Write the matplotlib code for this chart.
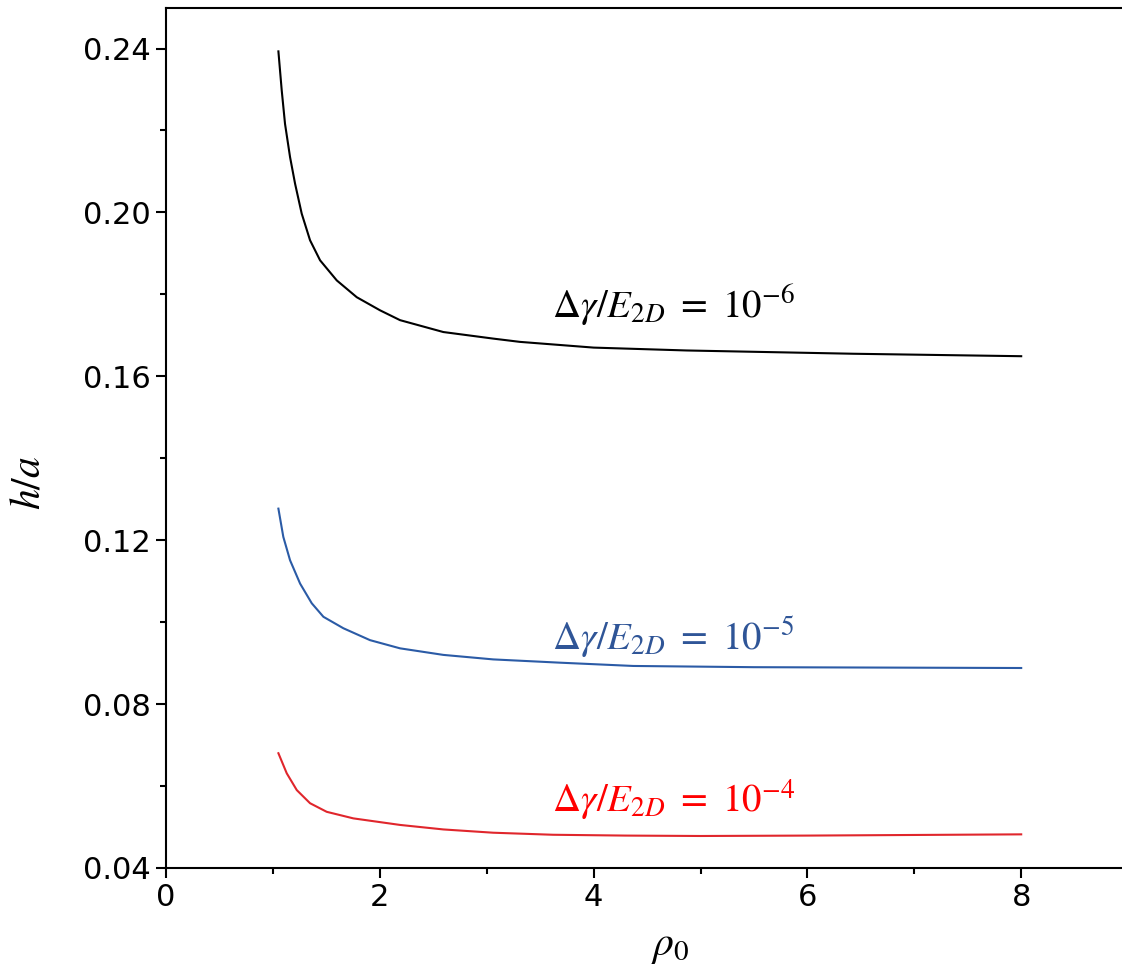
import numpy as np
import matplotlib.pyplot as plt
from matplotlib.ticker import MultipleLocator

plt.rcParams['mathtext.fontset'] = 'stix'
plt.rcParams['font.family'] = 'DejaVu Sans'

# ==========================
# DATA
# ==========================
rho_black = [1.051, 1.082, 1.113, 1.160, 1.207, 1.269, 1.347, 1.441, 1.597, 1.784, 2.002, 2.189,
             2.594, 3.06, 3.31, 4.0, 4.87, 6.43, 8.0]
h_black = [0.2393, 0.2298, 0.2216, 0.2135, 0.2070, 0.1997, 0.1932, 0.1883, 0.1834, 0.1793, 0.1761, 0.1737,
           0.1708, 0.1692, 0.1684, 0.1670, 0.1663, 0.1655, 0.1649]

rho_blue = [1.051, 1.097, 1.160, 1.254, 1.363, 1.472, 1.659, 1.908, 2.189, 2.594, 3.06, 3.686,
            4.37, 5.5, 8.0]
h_blue = [0.1277, 0.1208, 0.1151, 0.1094, 0.1046, 0.1013, 0.0985, 0.0956, 0.0936, 0.0920, 0.0909, 0.0901,
          0.0893, 0.0890, 0.0888]

rho_red = [1.051, 1.129, 1.223, 1.347, 1.503, 1.752, 2.189, 2.594, 3.06, 3.62, 4.3, 5.0, 6.0, 8.0]
h_red = [0.0680, 0.0631, 0.0590, 0.0558, 0.0537, 0.0521, 0.0505, 0.0494, 0.0486, 0.0481, 0.0479, 0.0478,
         0.0479, 0.0482]

labels = [r'$\Delta\gamma/E_{2D}\ =\ 10^{-6}$', r'$\Delta\gamma/E_{2D}\ =\ 10^{-5}$',
          r'$\Delta\gamma/E_{2D}\ =\ 10^{-4}$']
label_y = [0.1773, 0.0963, 0.0566]

# ==========================
# PLOT
# ==========================
fig = plt.figure(figsize=(11.22, 9.66), dpi=100)
ax = fig.add_axes([0.148, 0.1015, 0.852, 0.8907])

ax.plot(rho_black, h_black, color='black', lw=1.5)
ax.plot(rho_blue, h_blue, color='#2b5ba6', lw=1.5)
ax.plot(rho_red, h_red, color='#e0262c', lw=1.5)

for txt, y, c in zip(labels, label_y, ['black', '#2f5597', '#ff0000']):
    ax.text(3.61, y, txt, color=c, fontsize=28, va='center', ha='left')

ax.set_xlim(0, 8.943)
ax.set_ylim(0.04, 0.25)
ax.xaxis.set_major_locator(MultipleLocator(2))
ax.xaxis.set_minor_locator(MultipleLocator(1))
ax.yaxis.set_major_locator(MultipleLocator(0.04))
ax.yaxis.set_minor_locator(MultipleLocator(0.02))
ax.yaxis.set_major_formatter(plt.FuncFormatter(lambda v, p: f'{v:.2f}'))

ax.spines['right'].set_visible(False)
for s in ['left', 'top', 'bottom']:
    ax.spines[s].set_linewidth(1.5)
ax.tick_params(which='major', direction='out', length=7, width=1.5, labelsize=22, pad=4)
ax.tick_params(which='minor', direction='out', length=4, width=1.5)

ax.set_xlabel(r'$\rho_0$', fontsize=30, va='center')
ax.set_ylabel(r'$h/a$', fontsize=30, va='center')
ax.xaxis.set_label_coords(0.527, -0.089)
ax.yaxis.set_label_coords(-0.145, 0.448)

fig.savefig('out.png', dpi=100)
